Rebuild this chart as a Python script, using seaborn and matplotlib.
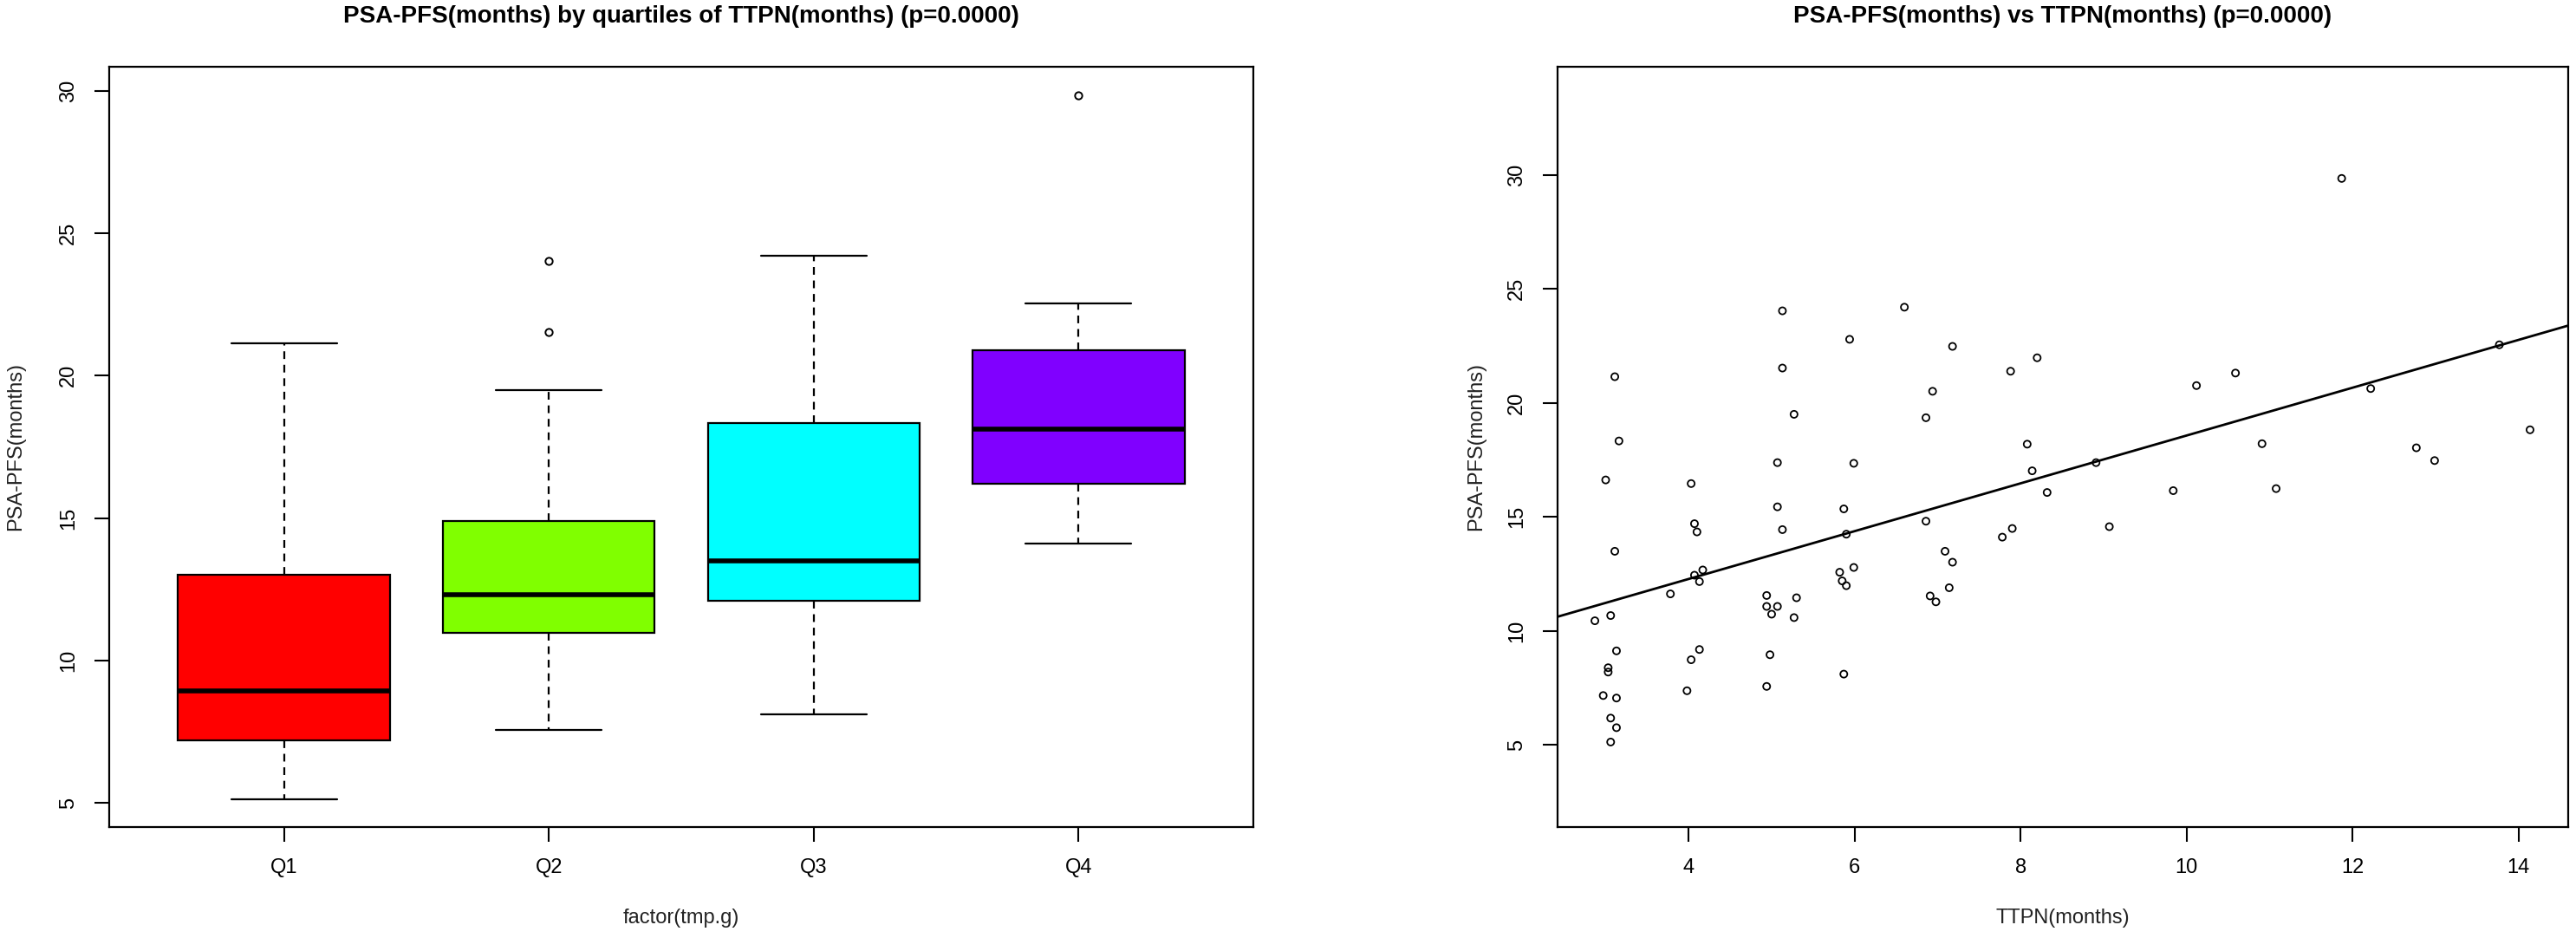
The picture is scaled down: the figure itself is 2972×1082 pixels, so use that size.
import numpy as np
import pandas as pd
import seaborn as sns
import matplotlib.pyplot as plt

ttpn = [5.94, 5.13, 3.11, 5.27, 3.16, 5.07, 5.99, 3.00, 4.03, 5.07,
        5.87, 4.07, 4.10, 5.13, 5.90, 3.11, 5.99, 4.07, 4.17, 4.13,
        5.82, 5.85, 5.90, 3.78, 4.94, 5.30, 4.94, 5.07, 5.00, 3.06,
        2.87, 5.27, 3.13, 4.13, 4.03, 4.98, 3.03, 3.03, 5.87, 2.97,
        3.13, 3.98, 4.94, 3.06, 3.13, 3.06, 5.13,
        6.60, 7.18, 8.20, 7.88, 6.94, 6.86, 10.12, 10.59, 8.08, 8.14,
        8.91, 8.32, 9.84, 6.86, 7.90, 7.78, 9.07, 7.09, 7.18, 7.14,
        6.91, 6.98,
        11.87, 12.22, 12.77, 12.99, 10.91, 11.08, 13.77, 14.14]
pfs = [22.79, 21.53, 21.15, 19.50, 18.33, 17.38, 17.35, 16.62, 16.46, 15.44,
       15.35, 14.70, 14.34, 14.44, 14.24, 13.49, 12.78, 12.44, 12.67, 12.16,
       12.57, 12.19, 11.98, 11.62, 11.55, 11.45, 11.07, 11.07, 10.73, 10.67,
       10.44, 10.58, 9.12, 9.18, 8.73, 8.95, 8.38, 8.19, 8.10, 7.16,
       7.05, 7.37, 7.56, 6.17, 5.75, 5.12, 24.04,
       24.20, 22.48, 21.98, 21.39, 20.51, 19.35, 20.76, 21.31, 18.19, 17.02,
       17.38, 16.07, 16.15, 14.81, 14.49, 14.11, 14.57, 13.49, 13.01, 11.89,
       11.53, 11.27,
       29.85, 20.63, 18.03, 17.47, 18.21, 16.24, 22.55, 18.82]

# limites dos quartis de TTPN (os grupos do grafico original nao sao iguais por causa de empates)
cortes = [2.8, 4.05, 5.5, 7.5, 14.2]
quartis = ['Q1', 'Q2', 'Q3', 'Q4']
cores = ['#FF0000', '#80FF00', '#00FFFF', '#8000FF']

df = pd.DataFrame({'ttpn': ttpn, 'pfs': pfs})
df['grupo'] = pd.cut(df['ttpn'], bins=cortes, labels=quartis)

sns.set_style('ticks', {'axes.edgecolor': 'black', 'xtick.color': 'black',
                        'ytick.color': 'black', 'text.color': 'black',
                        'axes.labelcolor': '#222222'})
plt.rcParams['font.family'] = ['Liberation Sans', 'DejaVu Sans']

W, H = 2972, 1082
fig = plt.figure(figsize=(W / 100, H / 100), dpi=100)
ax1 = fig.add_axes([126 / W, 128 / H, 1320 / W, 877 / H])
ax2 = fig.add_axes([1797 / W, 128 / H, 1166 / W, 877 / H])

# Boxplot por quartis
sns.boxplot(data=df, x='grupo', y='pfs', hue='grupo', palette=cores, legend=False,
            saturation=1, width=0.8, linecolor='black', linewidth=1.6,
            whiskerprops={'linestyle': (0, (4, 3))},
            medianprops={'linewidth': 4},
            flierprops={'marker': 'o', 'markerfacecolor': 'none',
                        'markeredgecolor': 'black', 'markersize': 6,
                        'markeredgewidth': 1.4},
            ax=ax1)
ax1.set_xlim(-0.66, 3.66)
ax1.set_ylim(4.16, 30.84)
ax1.set_yticks([5, 10, 15, 20, 25, 30])
ax1.set_title('PSA-PFS(months) by quartiles of TTPN(months) (p=0.0000)',
              fontsize=20, fontweight='bold', y=1 + 58 / 877, va='center', pad=0)
ax1.set_xlabel('factor(tmp.g)', fontsize=17)
ax1.set_ylabel('PSA-PFS(months)', fontsize=17)
ax1.xaxis.set_label_coords(0.5, -0.107)
ax1.yaxis.set_label_coords(-0.0735, 0.5)

# Dispersao + reta de regressao
ax2.set_xlim(2.42, 14.6)
ax2.set_ylim(1.39, 34.75)
sns.scatterplot(data=df, x='ttpn', y='pfs', marker='o', facecolor='none',
                edgecolor='black', linewidth=1.3, s=34, ax=ax2)
sns.regplot(data=df, x='ttpn', y='pfs', scatter=False, ci=None, truncate=False,
            color='black', line_kws={'linewidth': 2}, ax=ax2)
ax2.set_xlim(2.42, 14.6)
ax2.set_ylim(1.39, 34.75)
ax2.set_xticks([4, 6, 8, 10, 12, 14])
ax2.set_yticks([5, 10, 15, 20, 25, 30])
ax2.set_title('PSA-PFS(months) vs TTPN(months) (p=0.0000)',
              fontsize=20, fontweight='bold', y=1 + 58 / 877, va='center', pad=0)
ax2.set_xlabel('TTPN(months)', fontsize=17)
ax2.set_ylabel('PSA-PFS(months)', fontsize=17)
ax2.xaxis.set_label_coords(0.5, -0.107)
ax2.yaxis.set_label_coords(-0.071, 0.5)

for ax in (ax1, ax2):
    ax.tick_params(length=12, width=1.5, labelsize=17, pad=14, color='black')
    ax.tick_params(axis='y', labelrotation=90)
    for t in ax.get_yticklabels():
        t.set_va('center')
    for s in ax.spines.values():
        s.set_linewidth(1.6)
        s.set_visible(True)

fig.savefig('out.png', dpi=100)
